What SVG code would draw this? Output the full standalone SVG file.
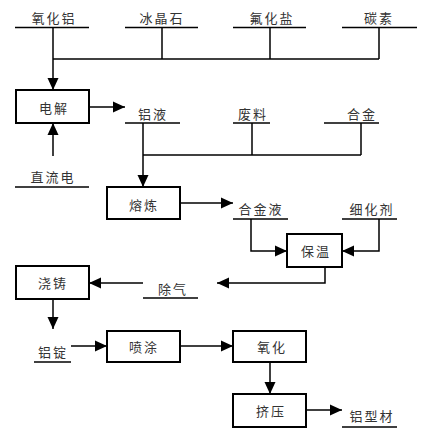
<svg xmlns="http://www.w3.org/2000/svg" width="438" height="440" viewBox="0 0 438 440">
<defs>
<marker id="ah" markerUnits="userSpaceOnUse" markerWidth="12" markerHeight="12" viewBox="0 0 12 12" refX="12" refY="6" orient="auto">
<path d="M0,0.5 L12,6 L0,11.5 Z" fill="#000"/>
</marker>
<style>
.box{fill:#fff;stroke:#000;stroke-width:2}
.ln{fill:none;stroke:#000;stroke-width:1.5}
.ul{fill:none;stroke:#000;stroke-width:1.5}
.ar{fill:none;stroke:#000;stroke-width:1.5;marker-end:url(#ah)}
text{font-family:"Noto Sans CJK SC","Noto Sans",sans-serif;font-size:13px;fill:#333;text-anchor:middle;letter-spacing:2px}
</style>
</defs>
<rect width="438" height="440" fill="#fff"/>
<g id="connectors">
<line class="ln" x1="53" y1="27.5" x2="53" y2="59"/>
<line class="ln" x1="162" y1="27.5" x2="162" y2="59"/>
<line class="ln" x1="270" y1="27.5" x2="270" y2="59"/>
<line class="ln" x1="379" y1="27.5" x2="379" y2="59"/>
<line class="ln" x1="53" y1="59" x2="379" y2="59"/>
<line class="ar" x1="53" y1="59" x2="53" y2="90"/>
<line class="ar" x1="89" y1="107" x2="125" y2="107"/>
<line class="ar" x1="53" y1="156" x2="53" y2="123"/>
<line class="ln" x1="143" y1="123" x2="143" y2="155"/>
<line class="ln" x1="252" y1="123" x2="252" y2="155"/>
<line class="ln" x1="361" y1="123" x2="361" y2="155"/>
<line class="ln" x1="143" y1="155" x2="361" y2="155"/>
<line class="ar" x1="143" y1="155" x2="143" y2="187"/>
<line class="ar" x1="180" y1="203" x2="233" y2="203"/>
<polyline class="ar" points="251,219 251,251 287,251"/>
<polyline class="ar" points="379,219 379,251 342,251"/>
<polyline class="ar" points="325,267 325,283 217,283"/>
<line class="ar" x1="143" y1="283" x2="89" y2="283"/>
<line class="ar" x1="53" y1="299" x2="53" y2="329"/>
<line class="ar" x1="71" y1="346" x2="107" y2="346"/>
<line class="ar" x1="180" y1="346" x2="233" y2="346"/>
<line class="ar" x1="270" y1="362" x2="270" y2="394"/>
<line class="ar" x1="306" y1="410" x2="342" y2="410"/>
</g>
<g id="n-yanghualv"><line class="ul" x1="15" y1="27.5" x2="89" y2="27.5"/><text x="54" y="23">氧化铝</text></g>
<g id="n-bingjingshi"><line class="ul" x1="125" y1="27.5" x2="198" y2="27.5"/><text x="162" y="23">冰晶石</text></g>
<g id="n-fuhuayan"><line class="ul" x1="233" y1="27.5" x2="306" y2="27.5"/><text x="272" y="23">氟化盐</text></g>
<g id="n-tansu"><line class="ul" x1="342" y1="27.5" x2="417" y2="27.5"/><text x="379" y="23">碳素</text></g>
<g id="n-dianjie"><rect class="box" x="16" y="90" width="73" height="33"/><text x="54" y="113">电解</text></g>
<g id="n-lvye"><line class="ul" x1="125" y1="123" x2="180" y2="123"/><text x="153" y="119">铝液</text></g>
<g id="n-zhiliudian"><line class="ul" x1="15" y1="187" x2="89" y2="187"/><text x="53" y="182">直流电</text></g>
<g id="n-feiliao"><line class="ul" x1="233" y1="123" x2="270" y2="123"/><text x="253" y="119">废料</text></g>
<g id="n-hejin"><line class="ul" x1="324" y1="123" x2="379" y2="123"/><text x="362" y="119">合金</text></g>
<g id="n-ronglian"><rect class="box" x="107" y="187" width="73" height="32"/><text x="144" y="210">熔炼</text></g>
<g id="n-hejinye"><line class="ul" x1="233" y1="219" x2="288" y2="219"/><text x="261" y="214">合金液</text></g>
<g id="n-xihuaji"><line class="ul" x1="342" y1="219" x2="397" y2="219"/><text x="372" y="214">细化剂</text></g>
<g id="n-baowen"><rect class="box" x="287" y="234" width="55" height="33"/><text x="316" y="256">保温</text></g>
<g id="n-chuqi"><line class="ul" x1="143" y1="298" x2="198" y2="298"/><text x="173" y="294">除气</text></g>
<g id="n-jiaozhu"><rect class="box" x="16" y="266" width="73" height="33"/><text x="53" y="288">浇铸</text></g>
<g id="n-lvding"><line class="ul" x1="34" y1="362" x2="71" y2="362"/><text x="53" y="357">铝锭</text></g>
<g id="n-pentu"><rect class="box" x="107" y="331" width="73" height="31"/><text x="144" y="352">喷涂</text></g>
<g id="n-yanghua"><rect class="box" x="233" y="331" width="73" height="31"/><text x="272" y="352">氧化</text></g>
<g id="n-jiya"><rect class="box" x="233" y="394" width="73" height="33"/><text x="271" y="416">挤压</text></g>
<g id="n-lvxingcai"><line class="ul" x1="342" y1="427" x2="397" y2="427"/><text x="372" y="421">铝型材</text></g>
</svg>
